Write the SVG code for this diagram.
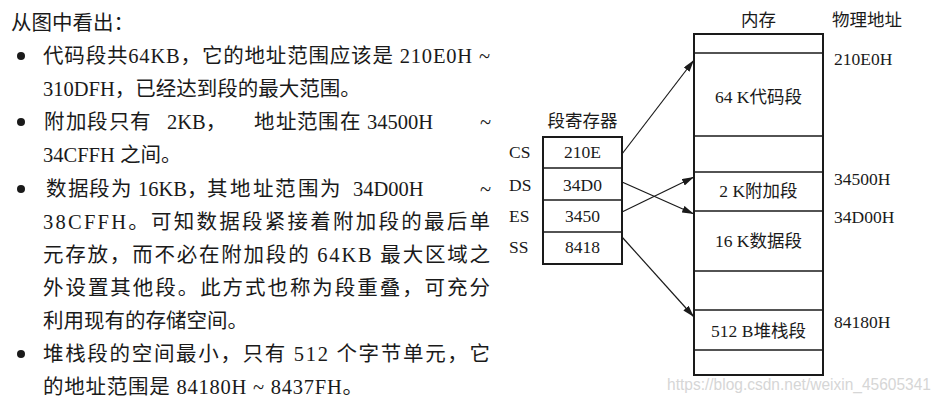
<svg xmlns="http://www.w3.org/2000/svg" width="944" height="401" viewBox="0 0 944 401">
<defs>
<style>
.t{font-family:"Liberation Serif","Noto Sans CJK SC",serif;font-size:20.5px;fill:#1a1a1a}
.d{font-family:"Liberation Serif","Noto Sans CJK SC",serif;font-size:17.5px;fill:#1a1a1a}
.c{text-anchor:middle}
.box{fill:none;stroke:#1a1a1a;stroke-width:2}
.ln{stroke:#1a1a1a;stroke-width:1.3}
.ar{stroke:#1a1a1a;stroke-width:1.2;fill:none;marker-end:url(#ah)}
.wm{font-family:"Liberation Sans",sans-serif;font-size:17px;fill:#d6d6d6}
</style>
<marker id="ah" markerUnits="userSpaceOnUse" markerWidth="13" markerHeight="8" refX="12" refY="3.5" orient="auto">
<path d="M0,0 L12,3.5 L0,7 z" fill="#1a1a1a"/>
</marker>
</defs>
<rect width="944" height="401" fill="#ffffff"/>

<g id="text">
<text class="t" x="11" y="30">从图中看出：</text>
<circle cx="21" cy="56" r="4" fill="#1a1a1a"/>
<text class="t" x="43" y="63" textLength="447" lengthAdjust="spacing">代码段共64KB，它的地址范围应该是 210E0H ~</text>
<text class="t" x="43" y="96">310DFH，已经达到段的最大范围。</text>
<circle cx="21" cy="122" r="4" fill="#1a1a1a"/>
<text class="t" y="129"><tspan x="44 66 87 109 130">附加段只有</tspan><tspan x="167">2KB，</tspan><tspan x="254 276 297 318 340">地址范围在</tspan><tspan x="367">34500H</tspan><tspan x="480">~</tspan></text>
<text class="t" x="43" y="162">34CFFH 之间。</text>
<circle cx="21" cy="189" r="4" fill="#1a1a1a"/>
<text class="t" y="196"><tspan x="46 68 89 111">数据段为</tspan><tspan x="138">16KB，</tspan><tspan x="207 230 253 275 298 320">其地址范围为</tspan><tspan x="353">34D00H</tspan><tspan x="480">~</tspan></text>
<text class="t" x="43" y="229" textLength="447" lengthAdjust="spacing">38CFFH。可知数据段紧接着附加段的最后单</text>
<text class="t" x="43" y="262" textLength="447" lengthAdjust="spacing">元存放，而不必在附加段的 64KB 最大区域之</text>
<text class="t" x="43" y="295" textLength="447" lengthAdjust="spacing">外设置其他段。此方式也称为段重叠，可充分</text>
<text class="t" x="43" y="328">利用现有的存储空间。</text>
<circle cx="21" cy="354" r="4" fill="#1a1a1a"/>
<text class="t" x="43" y="361" textLength="447" lengthAdjust="spacing">堆栈段的空间最小，只有 512 个字节单元，它</text>
<text class="t" x="43" y="394" textLength="320" lengthAdjust="spacing">的地址范围是 84180H ~ 8437FH。</text>
</g>

<g id="registers">
<text class="d c" x="582.5" y="127">段寄存器</text>
<rect class="box" x="543" y="137" width="79" height="127"/>
<line class="ln" x1="543" y1="168" x2="622" y2="168"/>
<line class="ln" x1="543" y1="200" x2="622" y2="200"/>
<line class="ln" x1="543" y1="232" x2="622" y2="232"/>
<text class="d" x="509" y="158">CS</text>
<text class="d" x="509" y="191">DS</text>
<text class="d" x="509" y="222">ES</text>
<text class="d" x="509" y="253">SS</text>
<text class="d c" x="582.5" y="158">210E</text>
<text class="d c" x="582.5" y="191">34D0</text>
<text class="d c" x="582.5" y="222">3450</text>
<text class="d c" x="582.5" y="253">8418</text>
</g>

<g id="memory">
<text class="d c" x="758.5" y="26">内存</text>
<text class="d" x="832" y="26">物理地址</text>
<rect class="box" x="694" y="34" width="129" height="341"/>
<line class="ln" x1="694" y1="53" x2="823" y2="53"/>
<line class="ln" x1="694" y1="136" x2="823" y2="136"/>
<line class="ln" x1="694" y1="172" x2="823" y2="172"/>
<line class="ln" x1="694" y1="211" x2="823" y2="211"/>
<line class="ln" x1="694" y1="271" x2="823" y2="271"/>
<line class="ln" x1="694" y1="310" x2="823" y2="310"/>
<line class="ln" x1="694" y1="350" x2="823" y2="350"/>
<text class="d c" x="758.5" y="103">64 K代码段</text>
<text class="d c" x="758.5" y="197">2 K附加段</text>
<text class="d c" x="758.5" y="247">16 K数据段</text>
<text class="d c" x="758.5" y="337">512 B堆栈段</text>
<text class="d" x="834" y="65">210E0H</text>
<text class="d" x="834" y="185">34500H</text>
<text class="d" x="834" y="223">34D00H</text>
<text class="d" x="834" y="328">84180H</text>
</g>

<g id="connectors">
<line class="ar" x1="622" y1="154" x2="694" y2="60"/>
<line class="ar" x1="622" y1="182" x2="694" y2="214"/>
<line class="ar" x1="622" y1="212" x2="694" y2="177"/>
<line class="ar" x1="622" y1="237" x2="694" y2="317"/>
</g>

<text class="wm" x="667" y="390" textLength="264" lengthAdjust="spacingAndGlyphs">https://blog.csdn.net/weixin_45605341</text>
</svg>
